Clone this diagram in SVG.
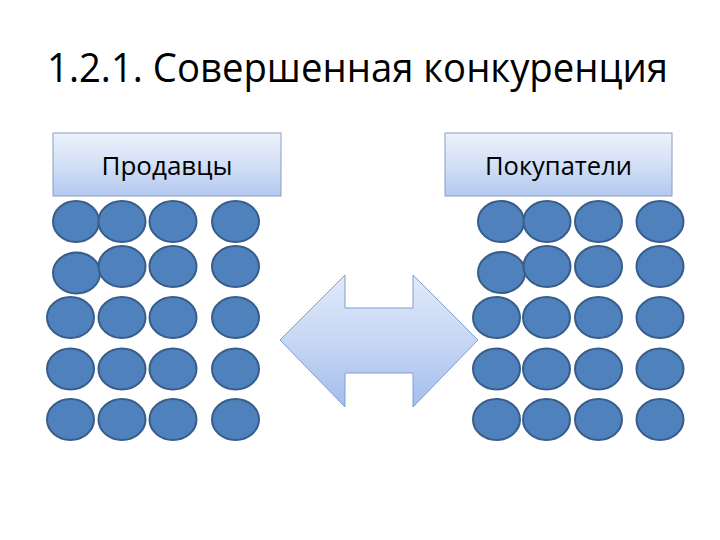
<svg xmlns="http://www.w3.org/2000/svg" width="720" height="540" viewBox="0 0 720 540">
<defs>
<linearGradient id="boxGrad" x1="0" y1="0" x2="0" y2="1">
<stop offset="0" stop-color="#EDF2FB"/>
<stop offset="0.5" stop-color="#D3E0F6"/>
<stop offset="1" stop-color="#B3C8EE"/>
</linearGradient>
<linearGradient id="arrowGrad" x1="0" y1="0" x2="0" y2="1">
<stop offset="0" stop-color="#E0E9F9"/>
<stop offset="0.5" stop-color="#C6D7F4"/>
<stop offset="1" stop-color="#A4BEEC"/>
</linearGradient>
</defs>
<style>
.title{font-family:"Open Sans","Noto Sans","DejaVu Sans",sans-serif;font-size:40px;fill:#000}
.label{font-family:"Open Sans","Noto Sans","DejaVu Sans",sans-serif;font-size:25px;fill:#000}
.box{fill:url(#boxGrad);stroke:#8A9EC2;stroke-width:1}
.c{fill:#4F81BD;stroke:#385D8A;stroke-width:2}
.arrow{fill:url(#arrowGrad);stroke:#7F9FCF;stroke-width:1}
</style>
<rect width="720" height="540" fill="#FFFFFF"/>
<text class="title" x="47" y="82" textLength="621" lengthAdjust="spacingAndGlyphs">1.2.1. Совершенная конкуренция</text>
<g id="sellers-header">
<rect class="box" x="53" y="133" width="228" height="63"/>
<text class="label" x="167" y="175" text-anchor="middle" textLength="131" lengthAdjust="spacingAndGlyphs">Продавцы</text>
</g>
<g id="buyers-header">
<rect class="box" x="445" y="133" width="227" height="63"/>
<text class="label" x="558.5" y="175" text-anchor="middle" textLength="147" lengthAdjust="spacingAndGlyphs">Покупатели</text>
</g>
<g id="sellers">
<ellipse class="c" cx="76" cy="221.5" rx="23" ry="20.5"/>
<ellipse class="c" cx="122" cy="221.5" rx="23.5" ry="20.5"/>
<ellipse class="c" cx="173" cy="221.5" rx="23.5" ry="20.5"/>
<ellipse class="c" cx="235.5" cy="221.5" rx="23.5" ry="20.5"/>
<ellipse class="c" cx="76.5" cy="273" rx="23.5" ry="20.5"/>
<ellipse class="c" cx="122" cy="266.5" rx="23.5" ry="20.5"/>
<ellipse class="c" cx="173" cy="266.5" rx="23.5" ry="20.5"/>
<ellipse class="c" cx="235.5" cy="266.5" rx="23.5" ry="20.5"/>
<ellipse class="c" cx="70.5" cy="317.5" rx="23.5" ry="20.5"/>
<ellipse class="c" cx="122" cy="317.5" rx="23.5" ry="20.5"/>
<ellipse class="c" cx="173" cy="317.5" rx="23.5" ry="20.5"/>
<ellipse class="c" cx="235.5" cy="317.5" rx="23.5" ry="20.5"/>
<ellipse class="c" cx="70.5" cy="369" rx="23.5" ry="20.5"/>
<ellipse class="c" cx="122" cy="369" rx="23.5" ry="20.5"/>
<ellipse class="c" cx="173" cy="369" rx="23.5" ry="20.5"/>
<ellipse class="c" cx="235.5" cy="369" rx="23.5" ry="20.5"/>
<ellipse class="c" cx="70.5" cy="419.5" rx="23.5" ry="20.5"/>
<ellipse class="c" cx="122" cy="419.5" rx="23.5" ry="20.5"/>
<ellipse class="c" cx="173" cy="419.5" rx="23.5" ry="20.5"/>
<ellipse class="c" cx="235.5" cy="419.5" rx="23.5" ry="20.5"/>
</g>
<g id="buyers">
<ellipse class="c" cx="501" cy="221.5" rx="23" ry="20.5"/>
<ellipse class="c" cx="547" cy="221.5" rx="23.5" ry="20.5"/>
<ellipse class="c" cx="598.5" cy="221.5" rx="23.5" ry="20.5"/>
<ellipse class="c" cx="660" cy="221.5" rx="23.5" ry="20.5"/>
<ellipse class="c" cx="501.5" cy="272.5" rx="23.5" ry="20.5"/>
<ellipse class="c" cx="547" cy="266.5" rx="23.5" ry="20.5"/>
<ellipse class="c" cx="598.5" cy="266.5" rx="23.5" ry="20.5"/>
<ellipse class="c" cx="660" cy="266.5" rx="23.5" ry="20.5"/>
<ellipse class="c" cx="496.5" cy="317.5" rx="23.5" ry="20.5"/>
<ellipse class="c" cx="546.5" cy="317.5" rx="23.5" ry="20.5"/>
<ellipse class="c" cx="598.5" cy="317.5" rx="23.5" ry="20.5"/>
<ellipse class="c" cx="660" cy="317.5" rx="23.5" ry="20.5"/>
<ellipse class="c" cx="496.5" cy="369" rx="23.5" ry="20.5"/>
<ellipse class="c" cx="546.5" cy="369" rx="23.5" ry="20.5"/>
<ellipse class="c" cx="598.5" cy="369" rx="23.5" ry="20.5"/>
<ellipse class="c" cx="660" cy="369" rx="23.5" ry="20.5"/>
<ellipse class="c" cx="496.5" cy="419.5" rx="23.5" ry="20.5"/>
<ellipse class="c" cx="546.5" cy="419.5" rx="23.5" ry="20.5"/>
<ellipse class="c" cx="598.5" cy="419.5" rx="23.5" ry="20.5"/>
<ellipse class="c" cx="660" cy="419.5" rx="23.5" ry="20.5"/>
</g>
<g id="connectors">
<path class="arrow" d="M280,340 L345,275 L345,308 L413,308 L413,275 L478,340 L413,407 L413,373 L345,373 L345,407 Z"/>
</g>
</svg>
